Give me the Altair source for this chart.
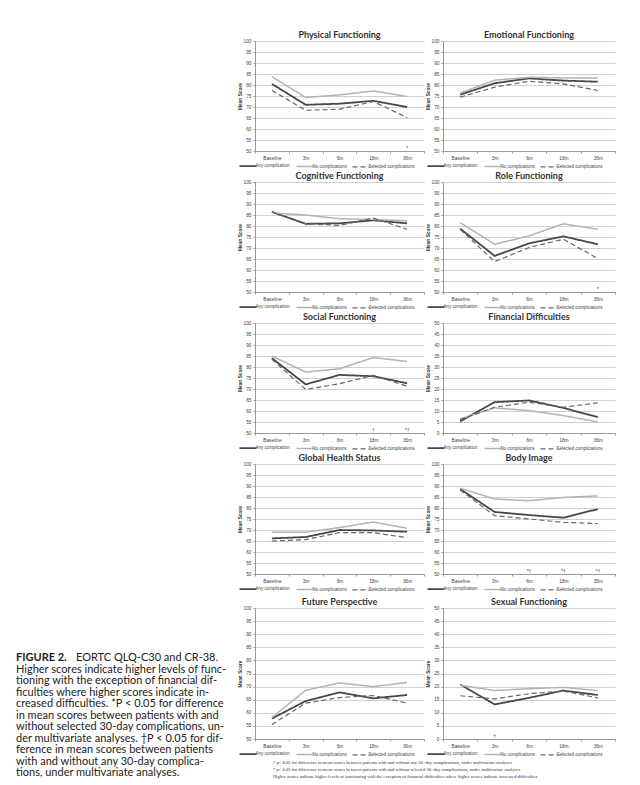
import altair as alt
import pandas as pd

TIMES = ["Baseline", "3m", "6m", "18m", "36m"]
SERIES = ["Any complication", "No complications", "Selected complications"]
SERIES_COLORS = ["#474747", "#b3b3b3", "#666666"]
SERIES_DASH = [[1, 0], [1, 0], [5, 3]]
SERIES_WIDTH = [1.8, 1.2, 1.3]

TITLES = [
    "Physical Functioning", "Emotional Functioning",
    "Cognitive Functioning", "Role Functioning",
    "Social Functioning", "Financial Difficulties",
    "Global Health Status", "Body Image",
    "Future Perspective", "Sexual Functioning",
]

ANY_COMP = [
    [80.5, 71.0, 71.5, 72.8, 70.0],
    [75.6, 80.8, 83.0, 82.0, 81.5],
    [86.4, 81.0, 81.2, 82.6, 81.2],
    [78.8, 66.4, 72.1, 75.3, 71.7],
    [84.0, 72.1, 76.4, 75.8, 72.6],
    [5.3, 14.0, 14.8, 11.4, 7.2],
    [66.2, 66.8, 70.0, 69.8, 69.2],
    [88.6, 78.2, 76.8, 75.6, 79.5],
    [57.8, 64.5, 67.8, 65.5, 66.8],
    [20.8, 13.2, 15.7, 18.5, 16.8],
]
NO_COMP = [
    [83.8, 74.3, 75.5, 77.3, 74.8],
    [76.4, 82.2, 83.5, 83.2, 83.2],
    [86.0, 85.0, 83.3, 83.0, 82.3],
    [81.5, 71.7, 75.5, 81.0, 78.5],
    [85.0, 77.7, 79.2, 84.3, 82.5],
    [6.4, 11.4, 10.2, 7.9, 5.0],
    [69.0, 69.0, 71.1, 73.6, 70.8],
    [89.0, 84.1, 83.3, 84.8, 85.5],
    [58.2, 68.6, 71.4, 70.0, 71.6],
    [20.5, 18.5, 19.2, 19.7, 18.5],
]
SEL_COMP = [
    [77.5, 68.5, 69.0, 72.5, 65.2],
    [74.5, 79.0, 81.7, 80.5, 77.5],
    [86.4, 81.0, 80.3, 83.6, 78.5],
    [78.5, 63.8, 70.2, 74.0, 65.2],
    [83.5, 69.8, 72.4, 76.2, 71.3],
    [6.1, 11.7, 14.0, 11.7, 13.7],
    [65.0, 65.6, 68.8, 68.8, 66.5],
    [88.2, 76.5, 75.0, 73.5, 72.9],
    [55.5, 63.7, 65.8, 66.6, 63.7],
    [16.5, 15.3, 17.3, 18.3, 15.7],
]
Y_MIN = [50, 50, 50, 50, 50, 0, 50, 50, 50, 0]

SIG_PANEL = [0, 3, 4, 4, 7, 7, 7, 9]
SIG_TIME = ["36m", "36m", "18m", "36m", "6m", "18m", "36m", "3m"]
SIG_TEXT = ["*", "*", "\u2020", "*\u2020", "*\u2020", "*\u2020", "*\u2020", "\u2020"]

CAPTION_LABEL = "FIGURE 2."
CAPTION_LINES = [
    "EORTC QLQ-C30 and CR-38.",
    "Higher scores indicate higher levels of func-",
    "tioning with the exception of financial dif-",
    "ficulties where higher scores indicate in-",
    "creased difficulties. *P < 0.05 for difference",
    "in mean scores between patients with and",
    "without selected 30-day complications, un-",
    "der multivariate analyses. \u2020P < 0.05 for dif-",
    "ference in mean scores between patients",
    "with and without any 30-day complica-",
    "tions, under multivariate analyses.",
]
FOOTNOTES = [
    "\u2020 p< 0.05 for difference in mean scores between patients with and without any 30 -day complications, under multivariate analyses",
    "* p< 0.05 for difference in mean scores between patients with and without selected 30 -day complications, under multivariate analyses",
    "Higher scores indicate higher levels of functioning with the exception of financial difficulties where higher scores indicate  increased difficulties",
]

FONT = "Liberation Sans"
IND = "independent"


def panel(k, width, height):
    recs = []
    for s, vals in zip(SERIES, (ANY_COMP[k], NO_COMP[k], SEL_COMP[k])):
        for t, v in zip(TIMES, vals):
            recs.append({"time": t, "series": s, "score": v})
    df = pd.DataFrame(recs)
    ymin = Y_MIN[k]
    leg = alt.Legend(title=None, orient="none", direction="horizontal",
                     legendX=-13, legendY=height + 9)
    xscale = alt.Scale(type="band", domain=TIMES, paddingInner=0, paddingOuter=0)
    yscale = alt.Scale(domain=[ymin, ymin + 50], nice=False, zero=False)
    xaxis = alt.Axis(title=None, labelAngle=0, tickBand="extent", grid=False,
                     domainColor="#999999", tickColor="#999999", tickSize=2,
                     labelFontSize=4.8, labelColor="#444444", labelPadding=2)
    yaxis = alt.Axis(title="Mean Score", values=list(range(ymin, ymin + 51, 5)),
                     labelOverlap=False, minExtent=11, maxExtent=11,
                     grid=True, gridColor="#c4c4c4", gridWidth=0.8,
                     domainColor="#999999", tickColor="#999999", tickSize=2,
                     labelFontSize=4.8, labelColor="#444444", labelPadding=2,
                     titleFontSize=4.8, titleFontWeight="bold", titleColor="#333333",
                     titlePadding=2)
    lines = alt.Chart(df).mark_line().encode(
        x=alt.X("time:N", sort=TIMES, bandPosition=0.5, scale=xscale, axis=xaxis),
        y=alt.Y("score:Q", scale=yscale, axis=yaxis),
        color=alt.Color("series:N", scale=alt.Scale(domain=SERIES, range=SERIES_COLORS), legend=leg),
        strokeDash=alt.StrokeDash("series:N", scale=alt.Scale(domain=SERIES, range=SERIES_DASH), legend=leg),
        strokeWidth=alt.StrokeWidth("series:N", scale=alt.Scale(domain=SERIES, range=SERIES_WIDTH), legend=leg),
    )
    layers = [lines]
    idx = [j for j in range(len(SIG_PANEL)) if SIG_PANEL[j] == k]
    if idx:
        sdf = pd.DataFrame({
            "time": [SIG_TIME[j] for j in idx],
            "label": [SIG_TEXT[j] for j in idx],
            "score": [ymin for _ in idx],
        })
        layers.append(
            alt.Chart(sdf).mark_text(fontSize=5, baseline="bottom", color="#444444", font=FONT).encode(
                x=alt.X("time:N", sort=TIMES, bandPosition=0.5, scale=xscale, axis=xaxis),
                y=alt.Y("score:Q", scale=yscale, axis=yaxis),
                text="label:N",
            )
        )
    return alt.layer(*layers).properties(
        width=width, height=height,
        title=alt.TitleParams(TITLES[k], fontSize=9, fontWeight="bold", color="#333333",
                              font="Lato", offset=-2, anchor="middle"),
    )


def res(c):
    return c.resolve_scale(x=IND, y=IND, color=IND, strokeDash=IND, strokeWidth=IND).resolve_legend(
        color=IND, strokeDash=IND, strokeWidth=IND)


ROW_H = [110, 110, 110, 110, 131]
COL_W = [169, 172]
rows = [res(alt.hconcat(panel(2 * r, COL_W[0], ROW_H[r]), panel(2 * r + 1, COL_W[1], ROW_H[r]),
                        spacing=0)) for r in range(5)]

foot_df = pd.DataFrame({"i": list(range(len(FOOTNOTES))), "text": FOOTNOTES})
footnote = alt.Chart(foot_df).mark_text(
    font="Liberation Serif", fontSize=4.6, color="#333333", align="left", baseline="middle"
).encode(
    x=alt.value(18),
    y=alt.Y("i:Q", scale=alt.Scale(domain=[-0.5, 2.5], reverse=True, nice=False, zero=False), axis=None),
    text="text:N",
).properties(width=340, height=20)

upper = res(alt.vconcat(*rows[:4], spacing=2))
panels_all = res(alt.vconcat(upper, rows[4], spacing=5))
grid = res(alt.vconcat(panels_all, footnote, spacing=2))

# caption at the left, aligned with the top of the grid
CAP_VIEW_H = 745
LINE_H = 11.5
FIRST_OFFSET = 617
cap_scale = alt.Scale(domain=[-FIRST_OFFSET / LINE_H, (CAP_VIEW_H - FIRST_OFFSET) / LINE_H],
                      reverse=True, nice=False, zero=False)
cap_df = pd.DataFrame({"i": list(range(len(CAPTION_LINES))), "text": CAPTION_LINES})
cap_first = cap_df[cap_df.i == 0]
cap_rest = cap_df[cap_df.i > 0]
cap_lab = pd.DataFrame({"i": [0], "text": [CAPTION_LABEL]})

cap_base = dict(font="Lato", fontSize=11, color="#222222", align="left", baseline="middle")
caption = alt.layer(
    alt.Chart(cap_lab).mark_text(fontWeight="bold", **cap_base).encode(
        x=alt.value(0), y=alt.Y("i:Q", scale=cap_scale, axis=None), text="text:N"),
    alt.Chart(cap_first).mark_text(dx=60, **cap_base).encode(
        x=alt.value(0), y=alt.Y("i:Q", scale=cap_scale, axis=None), text="text:N"),
    alt.Chart(cap_rest).mark_text(**cap_base).encode(
        x=alt.value(0), y=alt.Y("i:Q", scale=cap_scale, axis=None), text="text:N"),
).properties(width=213, height=CAP_VIEW_H)

chart = res(alt.hconcat(caption, grid, spacing=8)).properties(
    padding={"left": 8, "top": 23, "right": 0, "bottom": 0}
).configure_view(strokeWidth=0).configure_axis(
    labelFont=FONT, titleFont=FONT
).configure_legend(
    labelFont=FONT, labelFontSize=4.5, labelColor="#444444", symbolType="M-1.7,0H1.7",
    symbolSize=100, columnPadding=3, labelOffset=1.5, padding=0, rowPadding=0,
)

chart.save("out.html", embed_options={"renderer": "svg", "actions": False})
